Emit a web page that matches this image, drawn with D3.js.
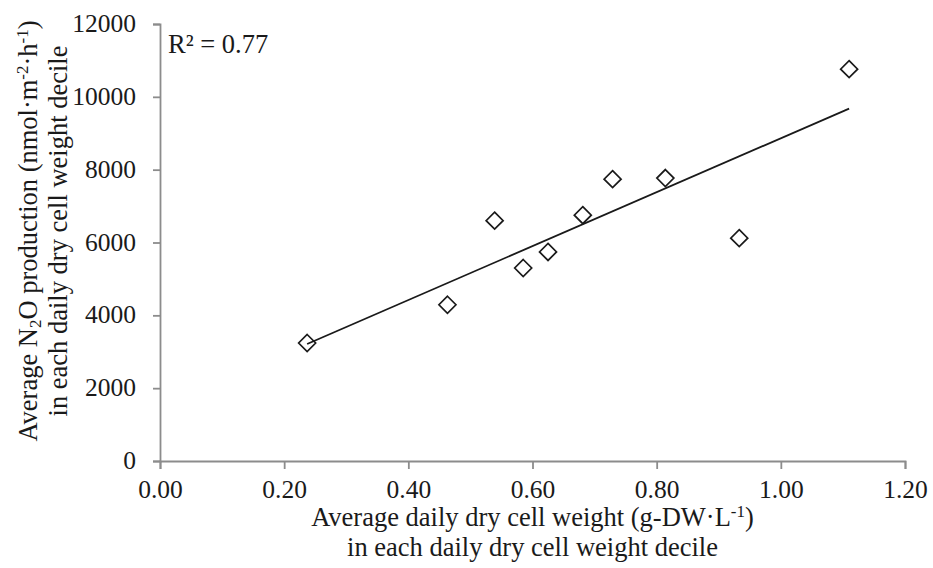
<!DOCTYPE html>
<html>
<head>
<meta charset="utf-8">
<script src="https://cdn.jsdelivr.net/npm/d3@7"></script>
<style>
  html, body { margin: 0; padding: 0; background: #fff; }
  svg { display: block; font-family: "Liberation Serif", "Times New Roman", serif; }
</style>
</head>
<body>
<svg id="chart" width="933" height="568"></svg>
<script>
// Average daily dry cell weight per decile (g-DW·L-1)
const dryCellWeight = [0.237, 0.463, 0.539, 0.585, 0.625, 0.681, 0.729, 0.814, 0.933, 1.110];
// Average N2O production per decile (nmol·m-2·h-1)
const n2oProduction = [3240, 4290, 6600, 5300, 5740, 6750, 7740, 7770, 6120, 10760];
const xTicks = [0, 0.2, 0.4, 0.6, 0.8, 1.0, 1.2];
const yTicks = [0, 2000, 4000, 6000, 8000, 10000, 12000];
const rSquaredLabel = "0.77";

const svg = d3.select("#chart");
const plotLeft = 160, plotRight = 905, plotTop = 24, plotBottom = 461;
const tickFont = 25.5;
const titleFont = 26.5;
const supFont = 17;
const axisColor = "#8c8c8c";
const inkColor = "#1a1a1a";

const x = d3.scaleLinear().domain([0, 1.2]).range([plotLeft, plotRight]);
const y = d3.scaleLinear().domain([0, 12000]).range([plotBottom, plotTop]);

// Axes
const xAxis = svg.append("g")
  .attr("transform", `translate(0,${plotBottom})`)
  .call(d3.axisBottom(x).tickValues(xTicks).tickFormat(d3.format(".2f")).tickSize(8).tickPadding(14));
const yAxis = svg.append("g")
  .attr("transform", `translate(${plotLeft},0)`)
  .call(d3.axisLeft(y).tickValues(yTicks).tickFormat(d3.format("d")).tickSize(7).tickPadding(17));

[xAxis, yAxis].forEach(g => {
  g.attr("font-family", null).attr("font-size", null);
  g.select(".domain").attr("stroke", axisColor).attr("stroke-width", 1.8);
  g.selectAll(".tick line").attr("stroke", axisColor).attr("stroke-width", 1.8);
  g.selectAll(".tick text")
    .attr("font-size", tickFont)
    .attr("fill", inkColor);
});
yAxis.selectAll(".tick text").attr("dy", "0.3em");
xAxis.selectAll(".tick text").attr("dy", "0.6em");

// Least-squares trend line across the range of the data
const n = dryCellWeight.length;
const mx = d3.mean(dryCellWeight), my = d3.mean(n2oProduction);
let sxy = 0, sxx = 0;
for (let i = 0; i < n; i++) {
  sxy += (dryCellWeight[i] - mx) * (n2oProduction[i] - my);
  sxx += (dryCellWeight[i] - mx) ** 2;
}
const slope = sxy / sxx, intercept = my - slope * mx;
const [xMin, xMax] = d3.extent(dryCellWeight);
const trend = [xMin, xMax].map(v => [v, intercept + slope * v]);

svg.append("path")
  .datum(trend)
  .attr("fill", "none")
  .attr("stroke", inkColor)
  .attr("stroke-width", 1.8)
  .attr("d", d3.line().x(d => x(d[0])).y(d => y(d[1])));

// Open diamond markers
const r = 8.5;
svg.append("g")
  .selectAll("path")
  .data(d3.zip(dryCellWeight, n2oProduction))
  .join("path")
  .attr("fill", "none")
  .attr("stroke", inkColor)
  .attr("stroke-width", 1.7)
  .attr("d", d => {
    const cx = x(d[0]), cy = y(d[1]);
    return `M${cx},${cy - r}L${cx + r},${cy}L${cx},${cy + r}L${cx - r},${cy}Z`;
  });

// R² annotation
svg.append("text")
  .attr("x", 168)
  .attr("y", 53)
  .attr("font-size", titleFont)
  .attr("fill", inkColor)
  .text("R² = " + rSquaredLabel);

// X-axis title (two lines)
const xTitle = svg.append("text")
  .attr("text-anchor", "middle")
  .attr("font-size", titleFont)
  .attr("fill", inkColor);
const xl1 = xTitle.append("tspan").attr("x", (plotLeft + plotRight) / 2).attr("y", 526);
xl1.append("tspan").text("Average daily dry cell weight (g-DW·L");
xl1.append("tspan").attr("baseline-shift", "super").attr("font-size", supFont).text("-1");
xl1.append("tspan").text(")");
xTitle.append("tspan").attr("x", (plotLeft + plotRight) / 2).attr("y", 556)
  .text("in each daily dry cell weight decile");

// Y-axis title (two lines, rotated)
const yTitleCenter = 231;
const yTitle = svg.append("text")
  .attr("text-anchor", "middle")
  .attr("font-size", titleFont)
  .attr("fill", inkColor)
  .attr("transform", `rotate(-90)`);
const yl1 = yTitle.append("tspan").attr("x", -yTitleCenter).attr("y", 37);
yl1.append("tspan").text("Average N");
yl1.append("tspan").attr("baseline-shift", "-4").attr("font-size", supFont).text("2");
yl1.append("tspan").text("O production (nmol·m");
yl1.append("tspan").attr("baseline-shift", "super").attr("font-size", supFont).text("-2");
yl1.append("tspan").text("·h");
yl1.append("tspan").attr("baseline-shift", "super").attr("font-size", supFont).text("-1");
yl1.append("tspan").text(")");
yTitle.append("tspan").attr("x", -yTitleCenter).attr("y", 67)
  .text("in each daily dry cell weight decile");
</script>
</body>
</html>
